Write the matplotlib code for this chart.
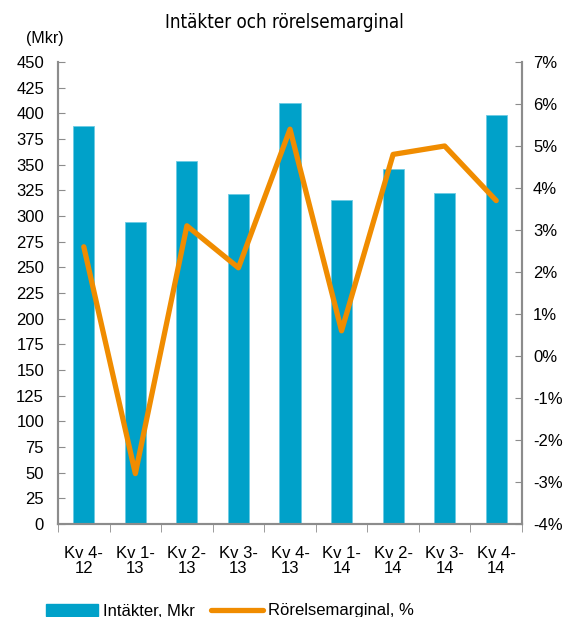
import matplotlib
matplotlib.use("Agg")
import matplotlib.pyplot as plt
from matplotlib.patches import Patch
from matplotlib.lines import Line2D
from matplotlib import font_manager
from matplotlib.font_manager import FontProperties
import numpy as np

categories = ["Kv 4-\n12", "Kv 1-\n13", "Kv 2-\n13", "Kv 3-\n13", "Kv 4-\n13",
              "Kv 1-\n14", "Kv 2-\n14", "Kv 3-\n14", "Kv 4-\n14"]
revenue = [388, 294, 354, 321, 410, 316, 346, 322, 398]
margin = [2.6, -2.8, 3.1, 2.1, 5.4, 0.6, 4.8, 5.0, 3.7]
left_ticks = list(range(0, 451, 25))
right_ticks = list(range(-4, 8))

BLUE = "#00A1C9"
ORANGE = "#F08C00"
GRAY = "#8C8C8C"

plt.rcParams['font.family'] = ['Liberation Sans', 'DejaVu Sans']

# find a condensed / narrow regular font for the title
cond = None
for f in font_manager.fontManager.ttflist:
    st = str(f.stretch).lower()
    if (('condensed' in st or 'narrow' in f.fname.lower() or 'condensed' in f.fname.lower())
            and f.style == 'normal' and str(f.weight) in ('400', 'normal', 'regular')
            and 'bold' not in f.fname.lower() and 'oblique' not in f.fname.lower()
            and 'italic' not in f.fname.lower()):
        cond = f.fname
        break
if cond:
    title_fp = FontProperties(fname=cond, size=13.5)
else:
    title_fp = FontProperties(family='DejaVu Sans', size=12.5)

fig = plt.figure(figsize=(5.67, 6.17), dpi=100)
ax = fig.add_axes([58/567, 1-524/617, (522-58)/567, (524-62)/617])
x = np.arange(len(categories))
ax.bar(x, revenue, width=0.41, color=BLUE, edgecolor="#6CCBE3", linewidth=0.6, zorder=2)
ax.set_xlim(-0.5, len(categories)-0.5)
ax.set_ylim(0, 450)
ax.set_yticks(left_ticks)
ax.set_yticklabels([str(t) for t in left_ticks], fontsize=12)
ax.set_xticks(x)
ax.set_xticklabels(categories, fontsize=12, linespacing=1.0)
ax.tick_params(axis='x', length=0, pad=16)
ax.set_xticks(np.arange(-0.5, len(categories), 1), minor=True)
ax.tick_params(axis='x', which='minor', length=6, color=GRAY, direction='out')
ax.tick_params(axis='y', direction='in', length=5, color=GRAY, pad=10)

ax2 = ax.twinx()
ax2.plot(x, margin, color=ORANGE, linewidth=3.8, solid_joinstyle='round', solid_capstyle='round', zorder=3)
ax2.set_ylim(-4, 7)
ax2.set_yticks(right_ticks)
ax2.set_yticklabels([f"{t}%" for t in right_ticks], fontsize=12)
ax2.tick_params(axis='y', direction='in', length=5, color=GRAY, pad=8)

for a in (ax, ax2):
    a.spines['top'].set_visible(False)
    for s in ('left', 'right', 'bottom'):
        a.spines[s].set_color(GRAY)
        a.spines[s].set_linewidth(1.5)

fig.text(284/567, 1-23/617, "Intäkter och rörelsemarginal", ha='center', va='center',
         fontproperties=title_fp)
fig.text(45/567, 1-38/617, "(Mkr)", ha='center', va='center', fontsize=11.5)

handles = [Patch(facecolor=BLUE, edgecolor=BLUE),
           Line2D([0], [0], color=ORANGE, linewidth=3.8, solid_capstyle='round')]
fig.legend(handles, ["Intäkter, Mkr", "Rörelsemarginal, %"], loc='center',
           bbox_to_anchor=(230/567, 1-611/617), ncol=2, frameon=False, fontsize=12,
           handlelength=3.1, handleheight=0.75, columnspacing=1.0, handletextpad=0.3)

fig.savefig("out.png", dpi=100)
